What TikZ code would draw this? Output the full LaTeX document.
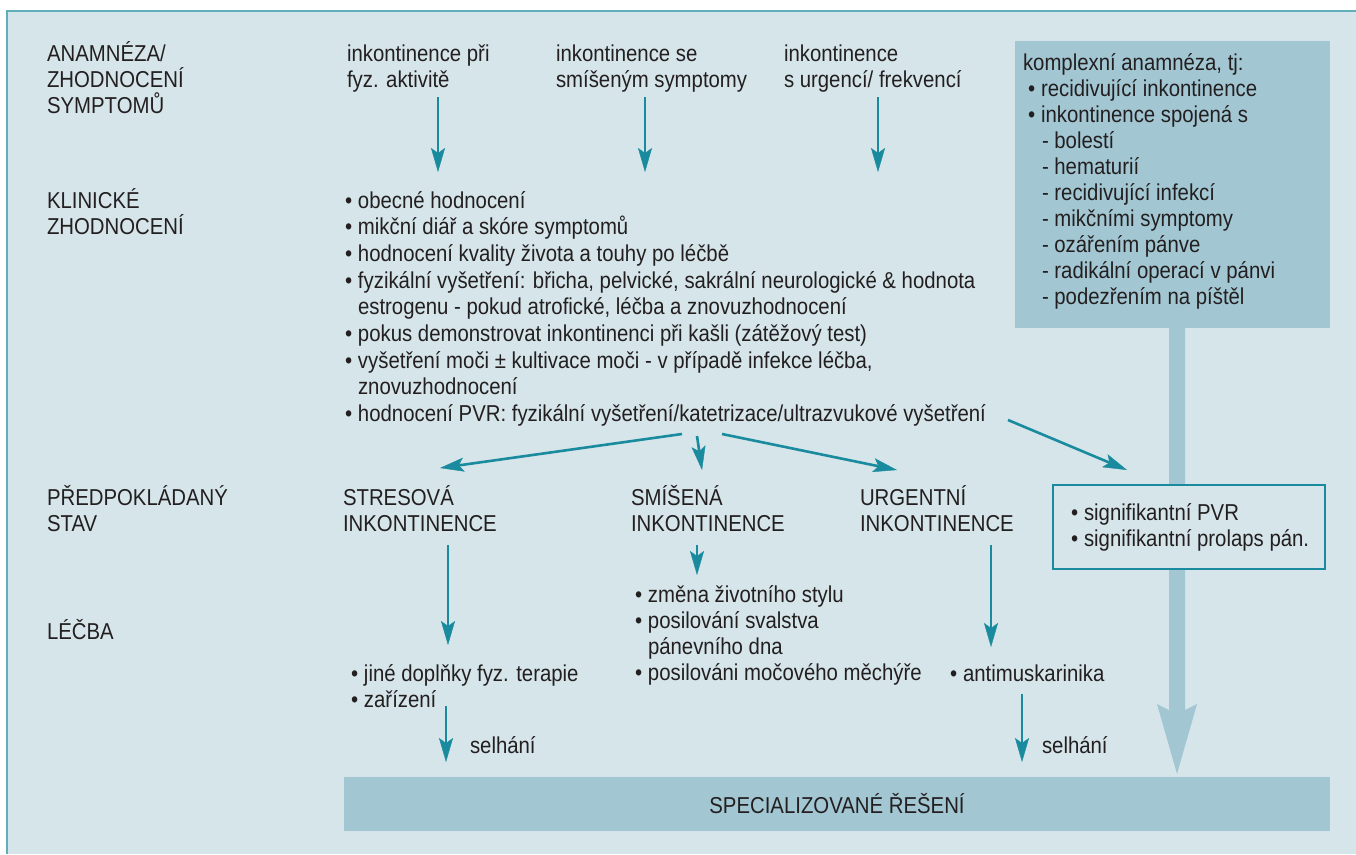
\documentclass[tikz,border=0pt]{standalone}
\usepackage{fontspec}
\setmainfont{Liberation Sans}[FakeStretch=0.885]
\usetikzlibrary{arrows.meta}
\definecolor{bgc}{HTML}{D5E5EA}
\definecolor{boxc}{HTML}{A2C7D3}
\definecolor{arrc}{HTML}{1A8B9E}
\definecolor{framec}{HTML}{5FAFBA}
\definecolor{txtc}{HTML}{231F20}
\newcommand\blt{\makebox[13pt][l]{•}}
\newcommand\ind{\hspace*{13pt}}
% fixed first-line height, so a node's top sits 23pt above its first baseline
\newcommand\ts{\rule{0pt}{23pt}}
\begin{document}
\begin{tikzpicture}[x=1pt,y=-1pt,
  every node/.style={inner sep=0pt, outer sep=0pt, text=txtc,
    font=\fontsize{23}{26.3}\selectfont},
  lbl/.style={anchor=north west, align=left, yshift=23pt},
  arr/.style={draw=arrc, line width=2.6pt,
    -{Stealth[length=24pt, width=14pt, inset=5pt, line width=0.4pt]}},
  panel/.style={fill=boxc}]
\useasboundingbox (0,0) rectangle (1356,854);
% background and frame
\fill[bgc] (7,11) rectangle (1356,854);
\draw[framec, line width=2.5pt] (7,854) -- (7,11) -- (1356,11);

% row labels (positions give the first baseline)
\node[lbl] (L1) at (47,61) {\ts ANAMNÉZA/\\ZHODNOCENÍ\\SYMPTOMŮ};
\node[lbl] (L2) at (47,208) {\ts KLINICKÉ\\ZHODNOCENÍ};
\node[lbl] (L3) at (47,505) {\ts PŘEDPOKLÁDANÝ\\STAV};
\node[lbl] (L4) at (47,639) {\ts LÉČBA};

% symptom headers
\node[lbl] (H1) at (347,61) {\ts inkontinence při\\fyz. aktivitě};
\node[lbl] (H2) at (556,61) {\ts inkontinence se\\smíšeným symptomy};
\node[lbl] (H3) at (784,61) {\ts inkontinence\\s urgencí/ frekvencí};

% clinical assessment
\node[lbl, font=\fontsize{23}{26.7}\selectfont] (clin) at (345,208) {\ts\blt obecné hodnocení\\
\blt mikční diář a skóre symptomů\\
\blt hodnocení kvality života a touhy po léčbě\\
\blt fyzikální vyšetření: břicha, pelvické, sakrální neurologické \& hodnota\\
\ind estrogenu - pokud atrofické, léčba a znovuzhodnocení\\
\blt pokus demonstrovat inkontinenci při kašli (zátěžový test)\\
\blt vyšetření moči ± kultivace moči - v případě infekce léčba,\\
\ind znovuzhodnocení\\
\blt hodnocení PVR: fyzikální vyšetření/katetrizace/ultrazvukové vyšetření};

% presumed conditions
\node[lbl] (S1) at (343,505) {\ts STRESOVÁ\\INKONTINENCE};
\node[lbl] (S2) at (631,505) {\ts SMÍŠENÁ\\INKONTINENCE};
\node[lbl] (S3) at (860,505) {\ts URGENTNÍ\\INKONTINENCE};

% treatment
\node[lbl] (T2) at (635,602) {\ts\blt změna životního stylu\\
\blt posilování svalstva\\
\ind pánevního dna\\
\blt posilováni močového měchýře};
\node[lbl] (T1) at (351,681) {\ts\blt jiné doplňky fyz. terapie\\\blt zařízení};
\node[lbl] (T3) at (950,681) {\ts\blt antimuskarinika};
\node[lbl] (F1) at (470,753) {\ts selhání};
\node[lbl] (F2) at (1042,753) {\ts selhání};

% complex history panel
\node[panel, anchor=north west, minimum width=315pt, minimum height=287pt] (rbox) at (1015,41) {};
\node[lbl, font=\fontsize{23}{26}\selectfont] (rtext) at (1023,70) {\ts komplexní anamnéza, tj:\\
\hspace*{5pt}\blt recidivující inkontinence\\
\hspace*{5pt}\blt inkontinence spojená s\\
\hspace*{19pt}- bolestí\\
\hspace*{19pt}- hematurií\\
\hspace*{19pt}- recidivující infekcí\\
\hspace*{19pt}- mikčními symptomy\\
\hspace*{19pt}- ozářením pánve\\
\hspace*{19pt}- radikální operací v pánvi\\
\hspace*{19pt}- podezřením na píštěl};

% specialised care
\node[panel, minimum width=986pt, minimum height=54pt] (bot) at (837,804) {SPECIALIZOVANÉ ŘEŠENÍ};

% wide arrow from the panel to specialised care
\coordinate (wtop) at ([xshift=4.5pt]rbox.south);
\coordinate (wtip) at (wtop |- bot.north);
\fill[boxc] ([xshift=-8pt]wtop) -- ([xshift=8pt]wtop)
  -- ([xshift=8pt,yshift=67pt]wtip) -- ([xshift=20pt,yshift=73pt]wtip)
  -- ([yshift=3pt]wtip) -- ([xshift=-20pt,yshift=73pt]wtip)
  -- ([xshift=-8pt,yshift=67pt]wtip) -- cycle;

% significant findings box
\node[anchor=north west, draw=arrc, line width=2.6pt, fill=bgc,
  minimum width=272pt, minimum height=84pt] (sig) at (1053,485) {};
\node[lbl] (sigtext) at (1071,520) {\ts\blt signifikantní PVR\\\blt signifikantní prolaps pán.};

% connector end points
\coordinate (a1s) at (438,97);  \coordinate (a1e) at (438,172);
\coordinate (a2s) at (645,97);  \coordinate (a2e) at (645,172);
\coordinate (a3s) at (878,97);  \coordinate (a3e) at (878,172);
\coordinate (b1s) at (682,434); \coordinate (b1e) at (440,468);
\coordinate (b2s) at (697,436); \coordinate (b2e) at (702,470);
\coordinate (b3s) at (722,434); \coordinate (b3e) at (897,470);
\coordinate (b4s) at (1008,420);\coordinate (b4e) at (1127,470);
\coordinate (c1s) at (448,545); \coordinate (c1e) at (448,645);
\coordinate (c2s) at (697,545); \coordinate (c2e) at (697,575);
\coordinate (c3s) at (991,545); \coordinate (c3e) at (991,647);
\coordinate (d1s) at (446,706); \coordinate (d1e) at (446,762);
\coordinate (d2s) at (1022,694);\coordinate (d2e) at (1022,762);

\foreach \a in {a1,a2,a3,b1,b2,b3,b4,c1,c2,c3,d1,d2}
  \draw[arr] (\a s) -- (\a e);
\end{tikzpicture}
\end{document}
